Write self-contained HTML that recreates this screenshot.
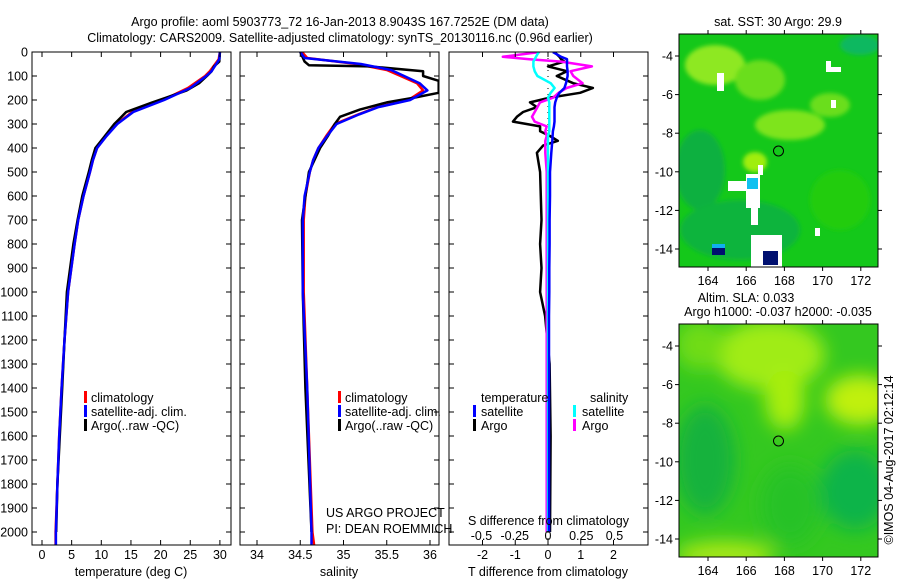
<!DOCTYPE html>
<html><head><meta charset="utf-8"><style>
html,body{margin:0;padding:0;background:#fff;width:900px;height:580px;overflow:hidden}
svg text{font-family:"Liberation Sans",sans-serif;font-size:12.5px;fill:#000}
</style></head><body>
<svg id="fig" width="900" height="580" viewBox="0 0 900 580" xmlns="http://www.w3.org/2000/svg">
<defs>
<filter id="blur8" x="-50%" y="-50%" width="200%" height="200%"><feGaussianBlur stdDeviation="9"/></filter>
<filter id="blur3"><feGaussianBlur stdDeviation="2"/></filter>
<clipPath id="m1c"><rect x="679" y="34" width="199" height="233"/></clipPath>
<clipPath id="m2c"><rect x="679" y="324" width="199" height="233"/></clipPath>
<clipPath id="p1c"><rect x="32" y="52" width="199" height="493"/></clipPath>
<clipPath id="p2c"><rect x="240" y="52" width="199" height="493"/></clipPath>
<clipPath id="p3c"><rect x="449" y="52" width="199" height="493"/></clipPath>
</defs>
<text x="340" y="26" text-anchor="middle" font-size="13.5">Argo profile: aoml 5903773_72 16-Jan-2013 8.9043S 167.7252E (DM data)</text>
<text x="340" y="42" text-anchor="middle" font-size="13.5">Climatology: CARS2009. Satellite-adjusted climatology: synTS_20130116.nc (0.96d earlier)</text>
<g id="g1" clip-path="url(#p1c)"></g>
<g id="g2" clip-path="url(#p2c)"></g>
<g id="g3" clip-path="url(#p3c)"></g>
<g id="axes"></g>

<g>
<rect x="84" y="391" width="3" height="12" fill="#f00"/><text x="91" y="402">climatology</text>
<rect x="84" y="405" width="3" height="12" fill="#00f"/><text x="91" y="416">satellite-adj. clim.</text>
<rect x="84" y="419" width="3" height="12" fill="#000"/><text x="91" y="430">Argo(..raw -QC)</text>
</g>
<g>
<rect x="338" y="391" width="3" height="12" fill="#f00"/><text x="345" y="402">climatology</text>
<rect x="338" y="405" width="3" height="12" fill="#00f"/><text x="345" y="416">satellite-adj. clim.</text>
<rect x="338" y="419" width="3" height="12" fill="#000"/><text x="345" y="430">Argo(..raw -QC)</text>
</g>
<g>
<text x="481" y="402">temperature</text><text x="590" y="402">salinity</text>
<rect x="473" y="405" width="3" height="12" fill="#00f"/><text x="481" y="416">satellite</text>
<rect x="473" y="419" width="3" height="12" fill="#000"/><text x="481" y="430">Argo</text>
<rect x="573" y="405" width="3" height="12" fill="#0ff"/><text x="582" y="416">satellite</text>
<rect x="573" y="419" width="3" height="12" fill="#f0f"/><text x="582" y="430">Argo</text>
</g>
<text x="326" y="517">US ARGO PROJECT</text>
<text x="326" y="533">PI: DEAN ROEMMICH</text>
<text x="468" y="525">S difference from climatology</text>
<text x="131" y="576" text-anchor="middle">temperature (deg C)</text>
<text x="339" y="576" text-anchor="middle">salinity</text>
<text x="548" y="576" text-anchor="middle">T difference from climatology</text>

<!-- Map 1 -->
<g clip-path="url(#m1c)">
<rect x="679" y="34" width="199" height="233" fill="#14c81a"/>
<g filter="url(#blur3)">
<ellipse cx="715" cy="65" rx="30" ry="20" fill="#8ee820"/>
<ellipse cx="760" cy="80" rx="25" ry="20" fill="#6ade1c"/>
<ellipse cx="790" cy="125" rx="35" ry="15" fill="#7ee41e"/>
<ellipse cx="830" cy="105" rx="20" ry="12" fill="#6ade1c"/>
<ellipse cx="700" cy="170" rx="25" ry="40" fill="#0fb040"/>
<ellipse cx="740" cy="230" rx="60" ry="30" fill="#10b43c"/>
<ellipse cx="860" cy="45" rx="20" ry="10" fill="#10b860"/>
<ellipse cx="755" cy="162" rx="12" ry="10" fill="#a0ee10"/>
<ellipse cx="840" cy="200" rx="30" ry="30" fill="#24cc10"/>
</g>
<rect x="826" y="61" width="5" height="11" fill="#fff"/><rect x="826" y="67" width="15" height="5" fill="#fff"/>
<rect x="717" y="73" width="7" height="18" fill="#fff"/>
<rect x="831" y="100" width="5" height="8" fill="#fff"/>
<rect x="758" y="165" width="5" height="10" fill="#fff"/>
<rect x="728" y="181" width="22" height="10" fill="#fff"/>
<rect x="746" y="174" width="14" height="34" fill="#fff"/>
<rect x="747" y="178" width="11" height="11" fill="#10c0f0"/>
<rect x="751" y="205" width="7" height="20" fill="#fff"/>
<rect x="751" y="235" width="31" height="32" fill="#fff"/>
<rect x="763" y="251" width="15" height="14" fill="#001070"/>
<rect x="712" y="244" width="13" height="11" fill="#001070"/>
<rect x="712" y="244" width="13" height="4" fill="#10b0f0"/>
<rect x="815" y="228" width="5" height="8" fill="#fff"/>
<circle cx="778.5" cy="151" r="5" fill="none" stroke="#000"/>
</g>
<rect x="679" y="34" width="199" height="233" fill="none" stroke="#000"/>
<text x="778" y="26" text-anchor="middle">sat. SST: 30 Argo: 29.9</text>

<!-- Map 2 -->
<g clip-path="url(#m2c)">
<rect x="679" y="324" width="199" height="233" fill="#34c820"/>
<g filter="url(#blur8)">
<ellipse cx="770" cy="355" rx="55" ry="35" fill="#a0ec12"/>
<ellipse cx="785" cy="400" rx="20" ry="30" fill="#a8ee10"/>
<ellipse cx="860" cy="400" rx="35" ry="25" fill="#c0f010"/>
<ellipse cx="700" cy="345" rx="25" ry="25" fill="#70dc18"/>
<ellipse cx="705" cy="460" rx="30" ry="55" fill="#14b23e"/>
<ellipse cx="855" cy="490" rx="35" ry="40" fill="#0eb448"/>
<ellipse cx="725" cy="555" rx="50" ry="14" fill="#a8e818"/>
<ellipse cx="790" cy="505" rx="30" ry="40" fill="#28c228"/>
</g>
<circle cx="778.5" cy="441" r="5" fill="none" stroke="#000"/>
</g>
<rect x="679" y="324" width="199" height="233" fill="none" stroke="#000"/>
<text x="746" y="302" text-anchor="middle">Altim. SLA: 0.033</text>
<text x="778" y="316" text-anchor="middle">Argo h1000: -0.037 h2000: -0.035</text>
<text transform="translate(893,460) rotate(-90)" text-anchor="middle">©IMOS 04-Aug-2017 02:12:14</text>
</svg>
<script>
// Depth grids (m)
const depthT = [0,30,50,80,100,150,200,250,300,350,400,450,500,600,700,800,1000,1200,1400,1600,1800,2000,2054];
const tempClim = [30,29.8,29.2,28.3,27.5,24.6,20.4,15.2,12.6,10.8,9.3,8.6,8.1,7.0,6.1,5.5,4.4,3.8,3.3,2.9,2.6,2.3,2.3];
const tempSat  = [30,29.9,29.4,28.6,27.7,25.0,20.6,15.4,12.7,10.9,9.3,8.6,8.1,7.0,6.1,5.5,4.4,3.8,3.3,2.9,2.6,2.35,2.35];
const depthA = [0,40,60,80,100,130,160,190,210,250,280,300,350,400,450,500,600,700,800,1000,1200,1400,1600,1800,2000];
const tempArgo = [30,29.9,29.0,28.6,27.8,26.5,24.4,21.0,18.6,14.2,13.0,12.2,10.6,9.0,8.4,7.9,6.8,6.0,5.3,4.2,3.8,3.4,3.0,2.6,2.4];
const depthS = [0,25,50,75,100,130,160,200,230,260,300,350,400,450,500,600,700,1000,1400,2000,2054];
const salClim = [34.52,34.58,35.15,35.5,35.66,35.85,35.92,35.75,35.39,35.17,34.9,34.8,34.71,34.65,34.61,34.56,34.54,34.54,34.58,34.64,34.66];
const salSat  = [34.50,34.55,35.2,35.55,35.7,35.88,35.97,35.77,35.40,35.18,34.92,34.81,34.71,34.65,34.61,34.55,34.53,34.53,34.58,34.63,34.63];
const depthSA = [0,40,55,60,80,100,120,150,170,190,210,240,270,300,350,400,500,700,1000,1400,2000];
const salArgo = [34.5,34.55,34.6,35.3,35.92,35.92,36.1,36.1,36.1,35.82,35.5,35.19,34.96,34.9,34.82,34.73,34.6,34.52,34.53,34.56,34.63];
const depthD = [0,20,30,40,60,80,100,130,150,170,190,210,230,250,270,290,310,330,350,370,390,420,500,600,700,800,900,1000,1100,1300,1600,2000];
const tDiffArgo = [0.2,0.35,0.4,0.5,0,0.58,0.27,0.77,1.37,0.98,0.06,-0.55,-0.34,-0.76,-0.95,-1.07,-0.24,-0.24,0.06,0.3,-0.15,-0.34,-0.24,-0.22,-0.2,-0.24,-0.2,-0.24,-0.09,0.05,0.08,0.06];
const tDiffSat = [0.15,0.4,0.58,0.58,0.58,0.6,0.6,0.55,0.5,0.35,0.27,0.22,0.2,0.2,0.2,0.2,0.18,0.15,0.14,0.13,0.12,0.1,0.06,0.06,0.05,0.05,0.04,0.04,0.03,0.03,0.03,0.03];
const sDiffArgo = [-0.06,-0.34,-0.14,0.1,0.33,0.17,0.19,0.26,0.14,0.08,0.04,-0.06,-0.08,-0.1,-0.12,-0.1,-0.01,-0.02,-0.01,-0.02,-0.02,-0.02,-0.01,-0.01,-0.01,-0.01,-0.01,-0.01,-0.01,-0.01,-0.01,-0.01];
const sDiffSat = [-0.07,-0.09,-0.1,-0.11,-0.11,-0.1,-0.08,0.02,0.05,0.02,0,0.01,0.01,0.01,0.01,0.01,0.01,0.01,0,0,0,0,0,0,0,0,0,0,0,0,0,0];
const depthTicks = [0,100,200,300,400,500,600,700,800,900,1000,1100,1200,1300,1400,1500,1600,1700,1800,1900,2000];
const tempTicks = [0,5,10,15,20,25,30];
const salTicks = [34,34.5,35,35.5,36];
const tDiffTicks = [-2,-1,0,1,2];
const sDiffTicks = [-0.5,-0.25,0,0.25,0.5];

const NS='http://www.w3.org/2000/svg';
const yD = d => 52 + d*0.24;
const xT = v => 42 + v*5.93;
const xS = v => 257 + (v-34)*86.5;
const xTD = v => 548 + v*32.75;
const xSD = v => 548 + v*133;

function mk(tag, attrs, parent){const e=document.createElementNS(NS,tag);for(const k in attrs)e.setAttribute(k,attrs[k]);parent.appendChild(e);return e;}
function line(parent, depths, vals, xf, color, name){
  const d = depths.map((dp,i)=>(i?'L':'M')+xf(vals[i]).toFixed(1)+','+yD(dp).toFixed(1)).join('');
  const p = mk('path',{d:d,fill:'none',stroke:color,'stroke-width':2.5,'stroke-linejoin':'round'},parent);
  
  
}
const g1=document.getElementById('g1'),g2=document.getElementById('g2'),g3=document.getElementById('g3'),ax=document.getElementById('axes');
line(g1,depthT,tempClim,xT,'#f00','temp-climatology-line');
line(g1,depthA,tempArgo,xT,'#000','temp-argo-line');
line(g1,depthT,tempSat,xT,'#00f','temp-satellite-line');
line(g2,depthS,salClim,xS,'#f00','sal-climatology-line');
line(g2,depthSA,salArgo,xS,'#000','sal-argo-line');
line(g2,depthS,salSat,xS,'#00f','sal-satellite-line');
const zl=mk('line',{x1:548,x2:548,y1:52,y2:545,stroke:'#000','stroke-dasharray':'1,5'},g3);


line(g3,depthD,tDiffArgo,xTD,'#000','t-diff-argo-line');
line(g3,depthD,sDiffArgo,xSD,'#f0f','s-diff-argo-line');
line(g3,depthD,sDiffSat,xSD,'#0ff','s-diff-satellite-line');
line(g3,depthD,tDiffSat,xTD,'#00f','t-diff-satellite-line');

const panels=[[32,tempTicks,xT,'temperature'],[240,salTicks,xS,'salinity'],[449,tDiffTicks,xTD,'t-diff']];
panels.forEach(([x0,ticks,xf,nm])=>{
  const r=mk('rect',{x:x0,y:52,width:199,height:493,fill:'none',stroke:'#000'},ax);
  
  
  depthTicks.forEach(d=>{
    mk('line',{x1:x0,x2:x0+5,y1:yD(d),y2:yD(d),stroke:'#000'},ax);
    mk('line',{x1:x0+194,x2:x0+199,y1:yD(d),y2:yD(d),stroke:'#000'},ax);
  });
  ticks.forEach(v=>{
    mk('line',{x1:xf(v),x2:xf(v),y1:52,y2:57,stroke:'#000'},ax);
    mk('line',{x1:xf(v),x2:xf(v),y1:540,y2:545,stroke:'#000'},ax);
    const t=mk('text',{x:xf(v),y:559,'text-anchor':'middle'},ax);
    t.textContent=String(v);
    
    
  });
});
sDiffTicks.forEach(v=>{
  const t=mk('text',{x:xSD(v),y:540,'text-anchor':'middle'},ax);
  t.textContent=String(v);
  
  
});
depthTicks.forEach(d=>{
  const t=mk('text',{x:28,y:yD(d)+4.5,'text-anchor':'end'},ax);
  t.textContent=String(d);
  
  
});
// map axes
const lonTicks=[164,166,168,170,172], latTicks=[-4,-6,-8,-10,-12,-14];
const xLon=v=>708+(v-164)*19.1;
[[34,56],[324,346]].forEach(([top,y4],mi)=>{
  const yLat=v=>y4+(-4-v)*19.3;
  lonTicks.forEach(v=>{
    mk('line',{x1:xLon(v),x2:xLon(v),y1:top,y2:top-4,stroke:'#000'},ax);
    mk('line',{x1:xLon(v),x2:xLon(v),y1:top+233,y2:top+237,stroke:'#000'},ax);
    const t=mk('text',{x:xLon(v),y:top+251,'text-anchor':'middle'},ax);
    t.textContent=String(v);
    
    
  });
  latTicks.forEach(v=>{
    mk('line',{x1:675,x2:679,y1:yLat(v),y2:yLat(v),stroke:'#000'},ax);
    mk('line',{x1:878,x2:882,y1:yLat(v),y2:yLat(v),stroke:'#000'},ax);
    const t=mk('text',{x:673,y:yLat(v)+4.5,'text-anchor':'end'},ax);
    t.textContent=String(v);
    
    
  });
});
</script>
</body></html>
